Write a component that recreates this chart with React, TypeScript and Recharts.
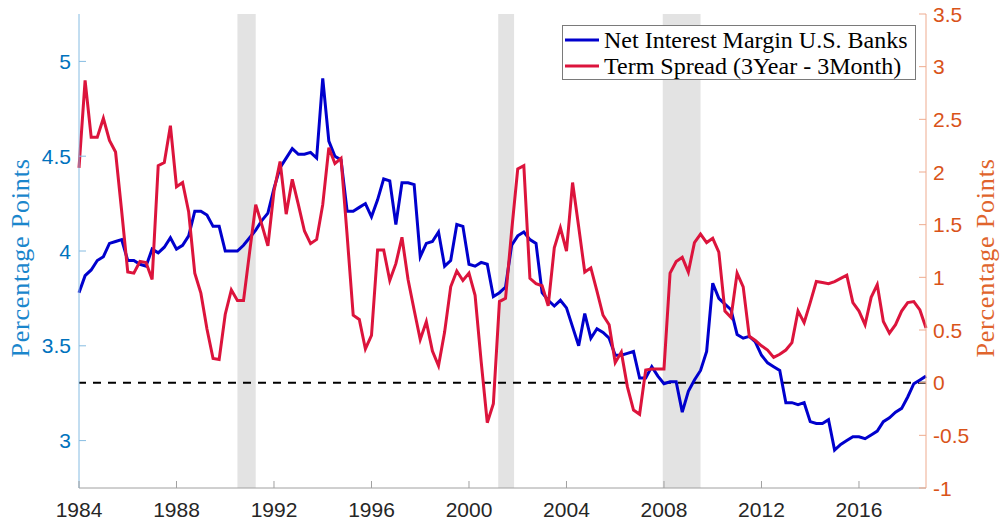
import React from "react";
import {
  LineChart,
  Line,
  XAxis,
  YAxis,
  ReferenceArea,
  ReferenceLine,
  Legend,
} from "recharts";

// quarterly observations, 1984Q1 .. 2018Q4 (one row per year)
const startYear = 1984;

const netInterestMargin = [
  3.78, 3.87, 3.9, 3.95,
  3.97, 4.04, 4.05, 4.06,
  3.95, 3.95, 3.93, 3.92,
  4.01, 3.99, 4.02, 4.07,
  4.01, 4.03, 4.08, 4.21,
  4.21, 4.19, 4.13, 4.13,
  4.0, 4.0, 4.0, 4.03,
  4.07, 4.11, 4.16, 4.2,
  4.33, 4.44, 4.49, 4.54,
  4.51, 4.51, 4.52, 4.49,
  4.91, 4.58, 4.5, 4.48,
  4.21, 4.21, 4.23, 4.25,
  4.18, 4.27, 4.38, 4.37,
  4.14, 4.36, 4.36, 4.35,
  3.97, 4.04, 4.05, 4.1,
  3.92, 3.95, 4.14, 4.13,
  3.93, 3.92, 3.94, 3.93,
  3.76, 3.78, 3.81, 4.03,
  4.08, 4.1, 4.06, 4.04,
  3.78, 3.74, 3.71, 3.74,
  3.7, 3.6, 3.5, 3.67,
  3.54, 3.59, 3.57, 3.54,
  3.45, 3.45, 3.46, 3.47,
  3.33, 3.33, 3.39, 3.34,
  3.3, 3.31, 3.31, 3.15,
  3.26, 3.32, 3.37, 3.47,
  3.83, 3.75, 3.72, 3.69,
  3.56, 3.54, 3.55, 3.52,
  3.45, 3.41, 3.39, 3.37,
  3.2, 3.2, 3.19, 3.2,
  3.1, 3.09, 3.09, 3.11,
  2.95, 2.98, 3.0, 3.02,
  3.02, 3.01, 3.03, 3.05,
  3.1, 3.12, 3.15, 3.17,
  3.23, 3.3, 3.32, 3.34,
];

const termSpread = [
  2.04, 2.87, 2.33, 2.33,
  2.51, 2.3, 2.19, 1.63,
  1.05, 1.04, 1.15, 1.14,
  0.98, 2.06, 2.09, 2.44,
  1.86, 1.9, 1.62, 1.04,
  0.85, 0.51, 0.23, 0.22,
  0.65, 0.88, 0.78, 0.78,
  1.24, 1.69, 1.5, 1.3,
  1.82, 2.1, 1.6, 1.93,
  1.69, 1.44, 1.32, 1.36,
  1.69, 2.23, 2.08, 2.13,
  1.4, 0.64, 0.6, 0.32,
  0.45, 1.26, 1.26, 0.97,
  1.13, 1.38, 0.98, 0.69,
  0.41, 0.58, 0.3, 0.16,
  0.48, 0.91, 1.06, 0.97,
  1.04, 0.83, 0.2, -0.38,
  -0.2, 0.77, 0.8, 1.44,
  2.03, 2.06, 0.99, 0.94,
  0.92, 0.73, 1.28, 1.47,
  1.25, 1.9, 1.48, 1.05,
  1.09, 0.87, 0.64, 0.55,
  0.19, 0.29, -0.04, -0.26,
  -0.3, 0.12, 0.13, 0.13,
  0.13, 1.04, 1.15, 1.19,
  1.05, 1.33, 1.41, 1.33,
  1.37, 1.24, 0.68, 0.62,
  1.04, 0.91, 0.44, 0.4,
  0.35, 0.31, 0.24, 0.27,
  0.31, 0.38, 0.68, 0.57,
  0.76, 0.96, 0.95, 0.94,
  0.96, 0.99, 1.02, 0.76,
  0.68, 0.55, 0.81, 0.93,
  0.58, 0.47, 0.55, 0.68,
  0.76, 0.77, 0.69, 0.52,
];

const yearTicks = [1984, 1988, 1992, 1996, 2000, 2004, 2008, 2012, 2016];
const leftTicks = [3, 3.5, 4, 4.5, 5];
const rightTicks = [-1, -0.5, 0, 0.5, 1, 1.5, 2, 2.5, 3, 3.5];

// NBER recessions (start, end) in fractional years
const recessions = [
  [1990.5, 1991.25],
  [2001.2, 2001.85],
  [2007.95, 2009.5],
];

const nimName = "Net Interest Margin U.S. Banks";
const spreadName = "Term Spread (3Year - 3Month)";

const data = netInterestMargin.map((v, i) => ({
  t: startYear + i / 4,
  nim: v,
  spread: termSpread[i],
}));

const BLUE = "#0000cd";
const RED = "#dc143c";
const LEFT_COLOR = "#0072bd";
const RIGHT_COLOR = "#d95319";
const LEFT_LINE = "#86bce2";
const RIGHT_LINE = "#eeab8f";
const BOX = "#a0a0a0";
const SANS = "'Liberation Sans', Arial, sans-serif";
const SERIF = "'Liberation Serif', 'Times New Roman', serif";

function BottomTick(props: any) {
  const { x, y, payload } = props;
  return (
    <g>
      <line x1={x} y1={y} x2={x} y2={y - 7} stroke={BOX} />
      <text
        x={x}
        y={y + 21}
        textAnchor="middle"
        dominantBaseline="central"
        fill="#262626"
        fontFamily={SANS}
        fontSize={21}
      >
        {payload.value}
      </text>
    </g>
  );
}

function TopTick(props: any) {
  const { x, y } = props;
  return <line x1={x} y1={y} x2={x} y2={y + 7} stroke={BOX} />;
}

function LeftTick(props: any) {
  const { x, y, payload } = props;
  return (
    <g>
      <line x1={x} y1={y} x2={x + 7} y2={y} stroke={LEFT_LINE} />
      <text
        x={x - 8}
        y={y}
        textAnchor="end"
        dominantBaseline="central"
        fill={LEFT_COLOR}
        fontFamily={SANS}
        fontSize={21}
      >
        {payload.value}
      </text>
    </g>
  );
}

function RightTick(props: any) {
  const { x, y, payload } = props;
  return (
    <g>
      <line x1={x} y1={y} x2={x - 7} y2={y} stroke={RIGHT_LINE} />
      <text
        x={x + 7}
        y={y}
        textAnchor="start"
        dominantBaseline="central"
        fill={RIGHT_COLOR}
        fontFamily={SANS}
        fontSize={21}
      >
        {payload.value}
      </text>
    </g>
  );
}

function axisTitle(side: "left" | "right") {
  return (props: any) => {
    const vb = props.viewBox || {};
    const cx = side === "left" ? (vb.x ?? 0) + 20 : (vb.x ?? 926) + 59;
    const cy = (vb.y ?? 14) + (vb.height ?? 474) / 2 + 7;
    return (
      <text
        x={cx}
        y={cy}
        transform={`rotate(-90, ${cx}, ${cy})`}
        textAnchor="middle"
        dominantBaseline="central"
        fill={side === "left" ? "#1a86cc" : "#e0642c"}
        fontFamily={SERIF}
        fontSize={26}
        letterSpacing={0.8}
      >
        Percentage Points
      </text>
    );
  };
}

function LegendBox(props: any) {
  const items = props.payload || [];
  return (
    <div
      style={{
        position: "relative",
        width: 354,
        height: 55,
        boxSizing: "border-box",
        border: "1px solid #7a7a7a",
        background: "white",
      }}
    >
      {items.map((it: any, i: number) => (
        <div
          key={i}
          style={{
            position: "absolute",
            left: 2,
            top: 1 + i * 26,
            height: 26,
            display: "flex",
            alignItems: "center",
            whiteSpace: "nowrap",
          }}
        >
          <svg width={34} height={6} style={{ marginRight: 5 }}>
            <line x1={0} y1={3} x2={34} y2={3} stroke={it.color} strokeWidth={3} />
          </svg>
          <span style={{ fontFamily: SERIF, fontSize: 24, color: "#000" }}>
            {it.value}
          </span>
        </div>
      ))}
    </div>
  );
}

export default function App() {
  return (
    <div
      style={{
        position: "absolute",
        left: 0,
        top: 0,
        width: 1000,
        height: 529,
        background: "white",
      }}
    >
      <LineChart
        width={1000}
        height={529}
        data={data}
        margin={{ top: 14, right: 0, bottom: 0, left: 0 }}
      >
        <XAxis
          dataKey="t"
          type="number"
          domain={[1984, 2018.75]}
          ticks={yearTicks}
          height={41}
          tickSize={0}
          tickMargin={0}
          tickLine={false}
          axisLine={{ stroke: BOX }}
          tick={<BottomTick />}
        />
        <XAxis
          xAxisId="top"
          dataKey="t"
          type="number"
          orientation="top"
          domain={[1984, 2018.75]}
          ticks={yearTicks}
          height={0}
          tickSize={0}
          tickMargin={0}
          tickLine={false}
          axisLine={{ stroke: BOX }}
          tick={<TopTick />}
        />
        <YAxis
          yAxisId="left"
          orientation="left"
          domain={[2.75, 5.25]}
          ticks={leftTicks}
          width={79}
          tickSize={0}
          tickMargin={0}
          tickLine={false}
          axisLine={{ stroke: LEFT_LINE }}
          tick={<LeftTick />}
          label={axisTitle("left")}
        />
        <YAxis
          yAxisId="right"
          orientation="right"
          domain={[-1, 3.5]}
          ticks={rightTicks}
          width={74}
          tickSize={0}
          tickMargin={0}
          tickLine={false}
          axisLine={{ stroke: RIGHT_LINE }}
          tick={<RightTick />}
          label={axisTitle("right")}
        />
        {recessions.map(([a, b], i) => (
          <ReferenceArea
            key={i}
            yAxisId="left"
            x1={a}
            x2={b}
            fill="#e3e3e3"
            fillOpacity={1}
            stroke="none"
          />
        ))}
        <ReferenceLine
          yAxisId="right"
          y={0}
          stroke="#000"
          strokeWidth={2}
          strokeDasharray="8 7"
        />
        <Line
          yAxisId="left"
          dataKey="nim"
          name={nimName}
          type="linear"
          stroke={BLUE}
          strokeWidth={3}
          dot={false}
          isAnimationActive={false}
        />
        <Line
          yAxisId="right"
          dataKey="spread"
          name={spreadName}
          type="linear"
          stroke={RED}
          strokeWidth={3}
          dot={false}
          isAnimationActive={false}
        />
        <Legend
          layout="horizontal"
          verticalAlign="middle"
          align="center"
          content={<LegendBox />}
          wrapperStyle={{ left: 562, top: 25, width: 354, height: 55, margin: 0 }}
        />
      </LineChart>
    </div>
  );
}
